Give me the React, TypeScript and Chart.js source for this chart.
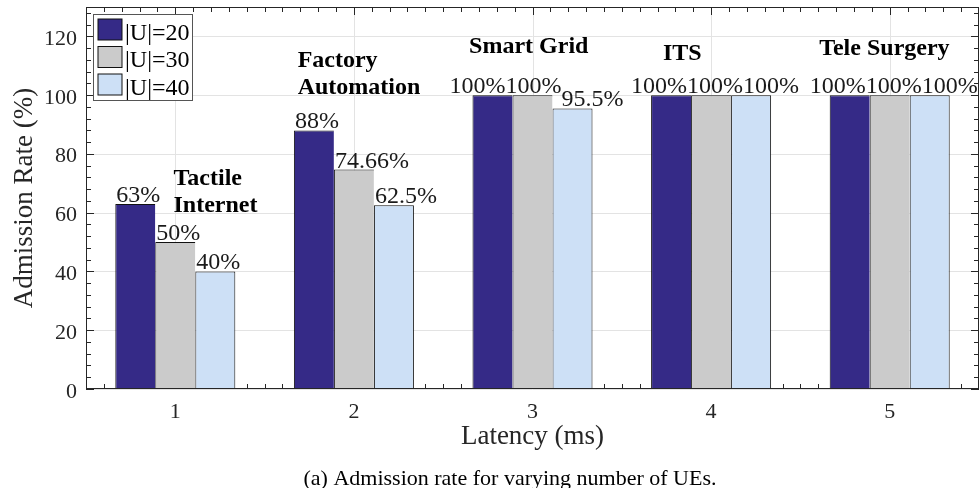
import React, { useEffect, useRef } from 'react';
import { Chart, registerables } from 'chart.js';

Chart.register(...registerables);

// ---------- data ----------
const categories = ['1', '2', '3', '4', '5'];
const seriesNames = ['|U|=20', '|U|=30', '|U|=40'];
const u20 = [63, 88, 100, 100, 100];
const u30 = [50, 74.66, 100, 100, 100];
const u40 = [40, 62.5, 95.5, 100, 100];
const yTicks = [0, 20, 40, 60, 80, 100, 120];
const xTicks = [1, 2, 3, 4, 5];
const serviceNames = [['Tactile', 'Internet'], ['Factory', 'Automation'], ['Smart Grid'], ['ITS'], ['Tele Surgery']];
// annotation anchors in data units (latency, admission rate) – left aligned, first baseline
const serviceX = [0.99, 1.685, 2.645, 3.73, 4.605];
const serviceY = [69.4, 109.5, 114.3, 112.0, 113.5];
const xTitle = 'Latency (ms)';
const yTitle = 'Admission Rate (%)';
const caption = '(a) Admission rate for varying number of UEs.';

// ---------- style ----------
const colors = ['#352a87', '#cbcbcb', '#cde0f6'];
const FONT = '"Liberation Serif", "Times New Roman", serif';
const AXIS = '#262626';

const series = [u20, u30, u40];

function line(ctx: CanvasRenderingContext2D, x1: number, y1: number, x2: number, y2: number) {
  ctx.beginPath();
  ctx.moveTo(x1, y1);
  ctx.lineTo(x2, y2);
  ctx.stroke();
}

const matlabPlugin = {
  id: 'matlabStyle',
  beforeDatasetsDraw(chart: any) {
    const { ctx, chartArea: a, scales } = chart;
    const x = scales.x;
    const y = scales.y;
    ctx.save();
    // grid
    ctx.strokeStyle = '#e3e3e3';
    ctx.lineWidth = 1;
    yTicks.forEach((v) => {
      const py = Math.round(y.getPixelForValue(v)) + 0.5;
      line(ctx, a.left, py, a.right, py);
    });
    xTicks.forEach((v) => {
      const px = Math.round(x.getPixelForValue(v - 1)) + 0.5;
      line(ctx, px, a.top, px, a.bottom);
    });
    // ticks (inward, all sides)
    ctx.strokeStyle = AXIS;
    for (let v = 0; v <= 130; v += 4) {
      const major = v % 20 === 0;
      const len = major ? 8 : 5;
      const py = Math.round(y.getPixelForValue(v)) + 0.5;
      line(ctx, a.left, py, a.left + len, py);
      line(ctx, a.right, py, a.right - len, py);
    }
    for (let k = -5; k <= 45; k++) {
      const major = k % 10 === 0;
      const len = major ? 8 : 5;
      const px = Math.round(x.getPixelForValue(k / 10)) + 0.5;
      line(ctx, px, a.bottom, px, a.bottom - len);
      line(ctx, px, a.top, px, a.top + len);
    }
    ctx.restore();
  },
  afterDatasetsDraw(chart: any) {
    const { ctx, chartArea: a, scales } = chart;
    const x = scales.x;
    const y = scales.y;
    ctx.save();
    // frame
    ctx.strokeStyle = AXIS;
    ctx.lineWidth = 1;
    ctx.strokeRect(a.left + 0.5, a.top + 0.5, a.right - a.left - 1, a.bottom - a.top - 1);

    // value labels
    ctx.font = `24px ${FONT}`;
    ctx.fillStyle = '#1a1a1a';
    ctx.textAlign = 'left';
    ctx.textBaseline = 'alphabetic';
    const textH = 17;
    categories.forEach((_, i) => {
      const items = series.map((s, d) => {
        const el = chart.getDatasetMeta(d).data[i];
        const text = `${s[i]}%`;
        const w = ctx.measureText(text).width;
        const half = (el.width || 40) / 2;
        return { text, w, cx: el.x, left: el.x - half, base: el.y - 2 };
      });
      // detect collisions when left aligned
      let collide = false;
      for (let k = 1; k < items.length; k++) {
        const p = items[k - 1];
        const c = items[k];
        const hOverlap = p.left + p.w > c.left;
        const vOverlap = Math.abs(p.base - c.base) < textH;
        if (hOverlap && vOverlap) collide = true;
      }
      if (!collide) {
        items.forEach((it) => ctx.fillText(it.text, it.left + 1, it.base));
      } else {
        const total = items.reduce((s, it) => s + it.w, 0);
        const mean = items.reduce((s, it) => s + it.cx, 0) / items.length;
        let px = mean - total / 2 + 4;
        items.forEach((it) => {
          ctx.fillText(it.text, px, it.base);
          px += it.w;
        });
      }
    });

    // service annotations
    ctx.font = `bold 24px ${FONT}`;
    ctx.fillStyle = '#000';
    serviceNames.forEach((lines, i) => {
      const px = x.getPixelForValue(serviceX[i] - 1);
      const py = y.getPixelForValue(serviceY[i]);
      lines.forEach((t, j) => ctx.fillText(t, px, py + j * 27));
    });

    // legend
    const lx = a.left + 7.5;
    const ly = a.top + 7.5;
    ctx.fillStyle = '#fff';
    ctx.fillRect(lx, ly, 99, 86);
    ctx.strokeStyle = '#555';
    ctx.lineWidth = 1;
    ctx.strokeRect(lx, ly, 99, 86);
    ctx.font = `24px ${FONT}`;
    seriesNames.forEach((n, i) => {
      const top = ly + 4.5 + i * 27.5;
      ctx.fillStyle = colors[i];
      ctx.fillRect(lx + 4.5, top, 24, 21);
      ctx.strokeStyle = '#111';
      ctx.strokeRect(lx + 4.5, top, 24, 21);
      ctx.fillStyle = '#000';
      ctx.fillText(n, lx + 31.5, top + 20.5);
    });

    // tick labels
    ctx.fillStyle = AXIS;
    ctx.font = `22px ${FONT}`;
    ctx.textAlign = 'right';
    yTicks.forEach((v) => {
      ctx.fillText(String(v), a.left - 9, y.getPixelForValue(v) + 8.5);
    });
    ctx.textAlign = 'center';
    xTicks.forEach((v) => {
      ctx.fillText(String(v), x.getPixelForValue(v - 1), a.bottom + 29);
    });

    // axis titles
    ctx.font = `27px ${FONT}`;
    ctx.fillText(xTitle, (a.left + a.right) / 2, a.bottom + 55);
    ctx.save();
    ctx.translate(32, (a.top + a.bottom) / 2);
    ctx.rotate(-Math.PI / 2);
    ctx.fillText(yTitle, 0, 0);
    ctx.restore();

    // caption
    ctx.fillStyle = '#000';
    ctx.font = `22px ${FONT}`;
    ctx.fillText(caption, 510, 485);
    ctx.restore();
  },
};

export default function App() {
  const ref = useRef<HTMLCanvasElement | null>(null);
  useEffect(() => {
    if (!ref.current) return;
    const widths = (i: number) =>
      i === series.length - 1
        ? { top: 1, right: 1, bottom: 1, left: 1 }
        : { top: 1, right: 0, bottom: 1, left: 1 };
    const chart = new Chart(ref.current, {
      type: 'bar',
      data: {
        labels: categories,
        datasets: seriesNames.map((n, i) => ({
          label: n,
          data: series[i],
          backgroundColor: colors[i],
          borderColor: '#111',
          borderWidth: widths(i),
          borderSkipped: false,
          barPercentage: 1,
          categoryPercentage: 0.672,
        })),
      },
      options: {
        responsive: false,
        animation: false,
        devicePixelRatio: 1,
        events: [],
        layout: { padding: { left: 86, right: 0, top: 7, bottom: 99 } },
        plugins: { legend: { display: false }, tooltip: { enabled: false } },
        scales: {
          x: { display: false, offset: true },
          y: { display: false, min: 0, max: 130 },
        },
      } as any,
      plugins: [matlabPlugin as any],
    });
    return () => chart.destroy();
  }, []);
  return (
    <div style={{ position: 'fixed', left: 0, top: 0, width: 979, height: 488, background: '#fff' }}>
      <canvas ref={ref} width={979} height={488} style={{ display: 'block' }} />
    </div>
  );
}
